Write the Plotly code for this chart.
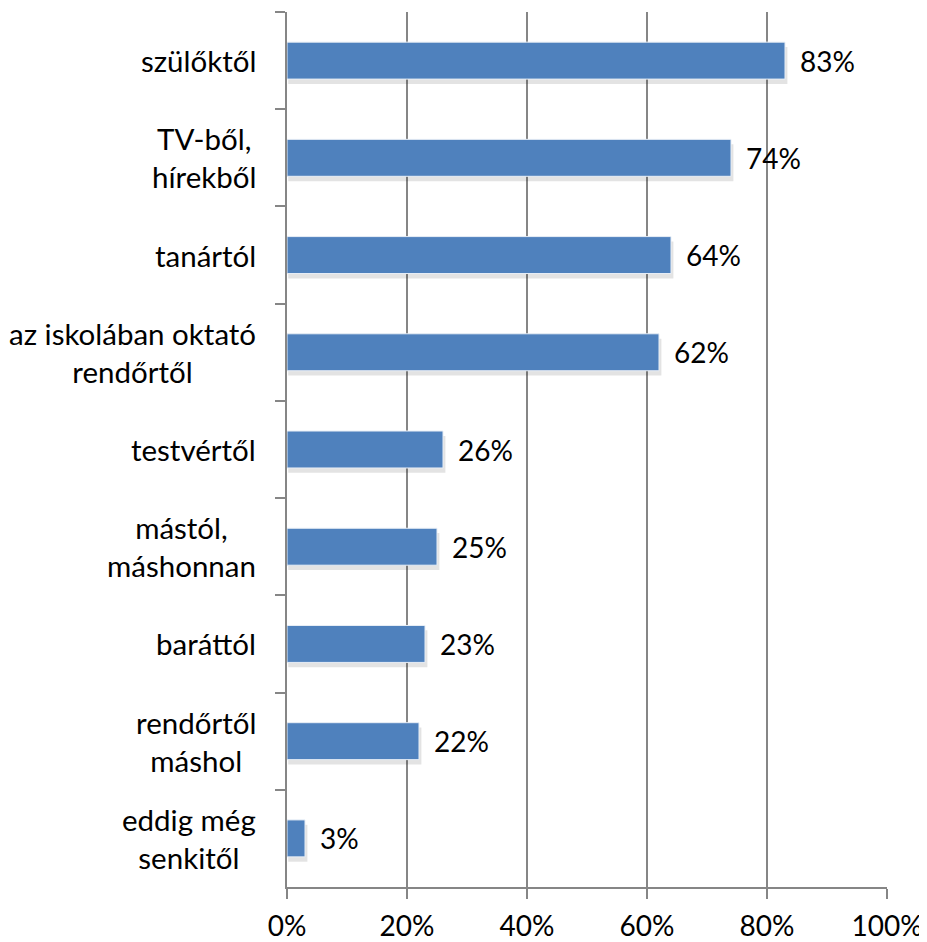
import plotly.graph_objects as go

categories = ["szülőktől", "TV-ből,<br>hírekből", "tanártól", "az iskolában oktató<br>rendőrtől",
              "testvértől", "mástól,<br>máshonnan", "baráttól", "rendőrtől<br>máshol",
              "eddig még<br>senkitől"]
values = [83, 74, 64, 62, 26, 25, 23, 22, 3]
value_labels = ["83%", "74%", "64%", "62%", "26%", "25%", "23%", "22%", "3%"]
tick_vals = [0, 20, 40, 60, 80, 100]
tick_text = ["0%", "20%", "40%", "60%", "80%", "100%"]

FONT = "Lato"
BAR_W = 0.38

fig = go.Figure()
# shadow
fig.add_trace(go.Bar(
    y=categories, x=[v + 0.2 for v in values], base=0.2, orientation="h",
    width=BAR_W, offset=-BAR_W / 2 + 0.05,
    marker=dict(color="rgba(0,0,0,0.11)", line=dict(width=0)),
    hoverinfo="skip", showlegend=False,
))
fig.add_trace(go.Bar(
    y=categories, x=values, orientation="h", width=BAR_W,
    marker=dict(color="#4F81BD", line=dict(color="#e8eef6", width=1)),
    showlegend=False,
))

for c, v, t in zip(categories, values, value_labels):
    fig.add_annotation(x=v, y=c, xref="x", yref="y", text=t, showarrow=False,
                       xanchor="left", xshift=13, font=dict(family=FONT, size=28, color="#000"))
    fig.add_annotation(x=0, y=c, xref="paper", yref="y", text=c, showarrow=False,
                       xanchor="right", align="center", xshift=-29,
                       font=dict(family=FONT, size=29.5, color="#000"))

fig.update_layout(
    width=919, height=934,
    margin=dict(l=279, r=40, t=4, b=55, autoexpand=False),
    plot_bgcolor="white", paper_bgcolor="white",
    barmode="overlay",
    font=dict(family=FONT, size=28, color="#000"),
)
fig.update_xaxes(range=[0, 100], tickvals=tick_vals, ticktext=tick_text,
                 showgrid=True, gridcolor="#868686", gridwidth=1.5,
                 ticks="outside", ticklen=10, tickcolor="#868686", tickwidth=1.5,
                 showline=True, linecolor="#868686", linewidth=1.5, automargin=False,
                 ticklabelstandoff=4,
                 zeroline=False, tickfont=dict(family=FONT, size=28))
fig.update_yaxes(autorange="reversed", showticklabels=False, tickson="boundaries",
                 ticks="outside", ticklen=10, tickcolor="#868686", tickwidth=1.5, automargin=False,
                 showline=True, linecolor="#868686", linewidth=1.5, showgrid=False)

fig.write_html("out.html")
